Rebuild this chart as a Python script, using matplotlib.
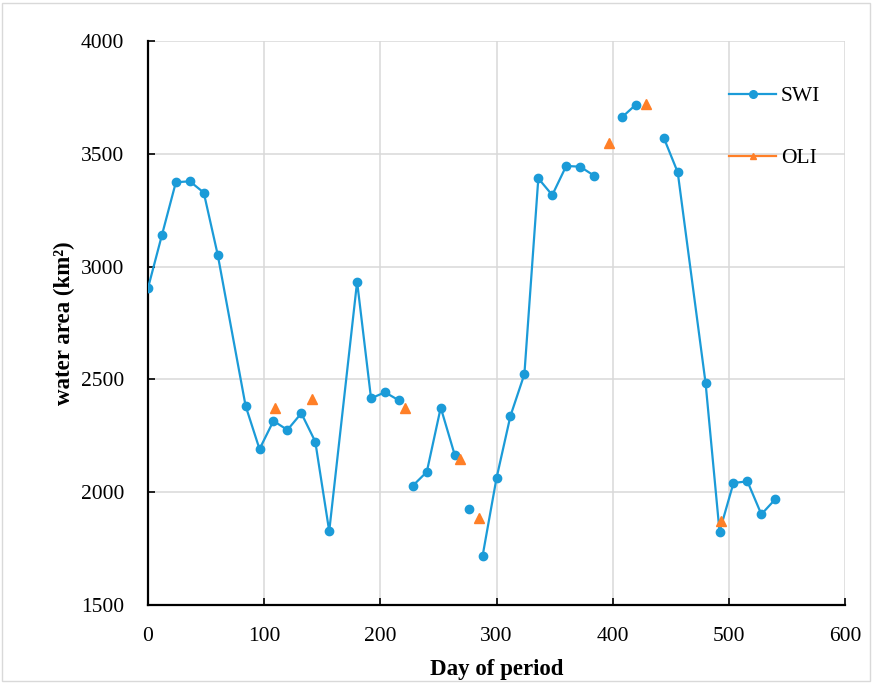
import numpy as np
import matplotlib
matplotlib.use("Agg")
import matplotlib.pyplot as plt
from matplotlib.patches import Rectangle
from matplotlib.lines import Line2D

# SWI series (nan = break in the line)
swi_day = [0, 12, 24, 36, 48, 60, 84, 96, 108, 120, 132, 144, 156, 180, 192, 204, 216,
           np.nan, 228, 240, 252, 264, np.nan, 276, np.nan, 288, 300, 312, 324, 336, 348,
           360, 372, 384, np.nan, 408, 420, np.nan, 444, 456, 480, 492, 504, 516, 528, 540]
swi_area = [2905, 3140, 3374, 3378, 3328, 3053, 2383, 2191, 2316, 2276, 2350, 2224, 1827,
            2933, 2416, 2443, 2407, np.nan, 2029, 2090, 2375, 2166, np.nan, 1926, np.nan,
            1717, 2062, 2338, 2523, 3391, 3317, 3446, 3443, 3403, np.nan, 3662, 3718,
            np.nan, 3571, 3418, 2483, 1825, 2041, 2048, 1902, 1969]

# OLI series
oli_day = [109, 141, 221, 269, 285, 397, 429, 493]
oli_area = [2375, 2413, 2375, 2149, 1884, 3549, 3722, 1872]

blue = '#1b9bd8'
orange = '#ff7f27'
grid_c = '#d9d9d9'

plt.rcParams['font.family'] = ['Liberation Serif', 'DejaVu Serif']

fig = plt.figure(figsize=(8.73, 6.83), dpi=100)
ax = fig.add_axes([148/873, 1-605/683, 697/873, 564/683])

ax.plot(swi_day, swi_area, color=blue, lw=1.6, marker='o', ms=6, zorder=3)
ax.plot(oli_day, oli_area, color=orange, marker='^', ms=6.5,
        linestyle='none', zorder=4)

ax.set_xlim(0, 600)
ax.set_ylim(1500, 4000)
ax.set_xticks(np.arange(0, 601, 100))
ax.set_yticks(np.arange(1500, 4001, 500))
ax.grid(True, color=grid_c, lw=1.1, zorder=0)
ax.set_axisbelow(True)

for s in ['top', 'right']:
    ax.spines[s].set_visible(False)
for s in ['left', 'bottom']:
    ax.spines[s].set_linewidth(1.6)
    ax.spines[s].set_color('black')

ax.tick_params(direction='in', length=5, width=1.2, labelsize=15.5)
ax.tick_params(axis='x', pad=16)
ax.tick_params(axis='y', pad=17)

ax.set_xlabel('Day of period', fontsize=16.5, fontweight='bold', labelpad=9.5)
ax.set_ylabel('water area (km²)', fontsize=16.5, fontweight='bold', labelpad=4)

# legend handles: both drawn as line + marker, like the source
handles = [Line2D([], [], color=blue, lw=1.6, marker='o', ms=5.5),
           Line2D([], [], color=orange, lw=1.6, marker='^', ms=5)]
leg = fig.legend(handles, ['SWI', 'OLI'], loc='upper left',
                 bbox_to_anchor=(729/873, 1-86/683),
                 frameon=False, fontsize=15.5, handlelength=2.2, handletextpad=0.2,
                 labelspacing=1.95, borderpad=0, borderaxespad=0)

# light frame round the whole chart
fig.patches.append(Rectangle((0.002, 0.003), 0.995, 0.992, transform=fig.transFigure,
                             fill=False, edgecolor=grid_c, lw=1.0))

fig.savefig('out.png', dpi=100)
